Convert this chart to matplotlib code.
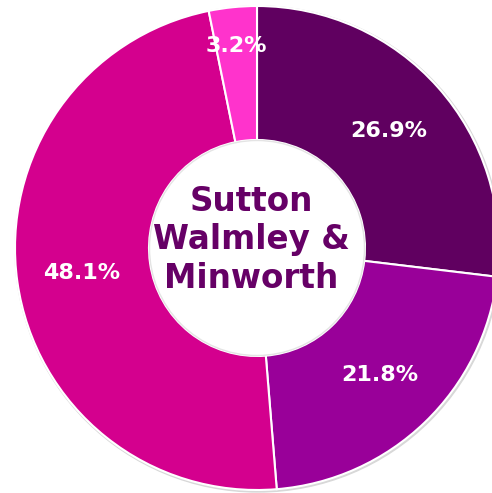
import matplotlib
matplotlib.use('Agg')
import matplotlib.pyplot as plt
import numpy as np

# ── Data ──────────────────────────────────────────────────────────────────────
shares = [26.9, 21.8, 48.1, 3.2]
colors = ['#600060', '#990099', '#d4008e', '#ff33cc']
title = 'Sutton\nWalmley &\nMinworth'

W, H = 492, 493
cx, cy = 257, H - 248
R = 242
ring = 134

fig = plt.figure(figsize=(W / 100, H / 100), dpi=100)
ax = fig.add_axes([0, 0, 1, 1])

# faint shadow around the ring edges
ax.add_patch(plt.Circle((cx + 1, cy - 1), R + 1, color='#d8d8d8', zorder=0))
ax.add_patch(plt.Circle((cx, cy), R - ring, color='white', zorder=0.5))

wedges, texts, autotexts = ax.pie(
    shares, colors=colors, startangle=90, counterclock=False,
    radius=R, center=(cx, cy), frame=True,
    wedgeprops=dict(width=ring, edgecolor='white', linewidth=1.5),
    autopct='%1.1f%%', pctdistance=0.73,
    textprops=dict(color='white', fontsize=16, fontweight='bold'))
ax.add_patch(plt.Circle((cx, cy), R - ring - 0.5, fill=False,
                        edgecolor='#e4e4e4', linewidth=1.0, zorder=3))
ax.set_xlim(0, W)
ax.set_ylim(0, H)
ax.set_aspect('equal')
ax.axis('off')

# small slice label sits further out
for t, s in zip(autotexts, shares):
    if s < 5:
        x, y = t.get_position()
        k = 0.84 / 0.73
        t.set_position((cx + (x - cx) * k, cy + (y - cy) * k))

ax.text(cx - 6, cy + 8, title, ha='center', va='center', fontsize=23.5,
        fontweight='bold', color='#660066', linespacing=1.22, zorder=4)

fig.savefig('out.png', dpi=100)
